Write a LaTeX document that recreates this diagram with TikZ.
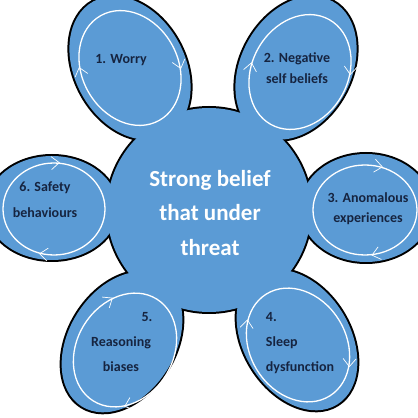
\documentclass[tikz,border=0pt]{standalone}
\usepackage{fontspec}
\setmainfont{Carlito}
\usetikzlibrary{arrows.meta,decorations.markings}
\definecolor{petal}{RGB}{91,155,213}
\definecolor{ink}{RGB}{22,36,64}
\tikzset{
  outline/.style={draw=black,line width=4pt},
  body/.style={fill=petal},
  ring/.style 2 args={draw=white,line width=1.3pt,postaction={decorate},
    decoration={markings,
      mark=at position #1 with {\arrow{<}},
      mark=at position #2 with {\arrow{<}}}},
  ptext/.style={text=ink,font=\fontsize{14}{21}\selectfont\bfseries,inner sep=0pt},
  ctext/.style={text=white,font=\fontsize{23}{34.5}\selectfont\bfseries,align=center,inner sep=0pt},
}
\begin{document}
\begin{tikzpicture}[x=1pt,y=1pt,>={Straight Barb[length=8pt,width=13pt,line width=0.7pt]}]
\useasboundingbox (0,0) rectangle (418,418);
\begin{scope}
\clip (0,0) rectangle (418,418);
% outline of the union
\path[outline] (209,208) circle [radius=102];
\path[outline] (130,350) ellipse [x radius=76, y radius=55, rotate=119];
\path[outline] (296,350) ellipse [x radius=76, y radius=55, rotate=61];
\path[outline] (366,210) ellipse [x radius=66, y radius=54];
\path[outline] (297,78) ellipse [x radius=76, y radius=53, rotate=-58];
\path[outline] (122,76) ellipse [x radius=76, y radius=53, rotate=238];
\path[outline] (52,210) ellipse [x radius=66, y radius=52];
% fill of the union
\path[body] (209,208) circle [radius=102];
\path[body] (130,350) ellipse [x radius=76, y radius=55, rotate=119];
\path[body] (296,350) ellipse [x radius=76, y radius=55, rotate=61];
\path[body] (366,210) ellipse [x radius=66, y radius=54];
\path[body] (297,78) ellipse [x radius=76, y radius=53, rotate=-58];
\path[body] (122,76) ellipse [x radius=76, y radius=53, rotate=238];
\path[body] (52,210) ellipse [x radius=66, y radius=52];
% white circular arrows
\path[ring={0.2}{0.7}] (130,350) ellipse [x radius=60, y radius=48, rotate=119];
\path[ring={0.32}{0.84}] (300,346) ellipse [x radius=60, y radius=48, rotate=61];
\path[ring={0.22}{0.8}] (365,208) ellipse [x radius=52, y radius=45];
\path[ring={0.13}{0.62}] (298,73) ellipse [x radius=60, y radius=48, rotate=-58];
\path[ring={0.12}{0.66}] (125,68) ellipse [x radius=60, y radius=48, rotate=238];
\path[ring={0.26}{0.73}] (54,209) ellipse [x radius=51, y radius=46];
\end{scope}
% texts
\node[ctext] (core) at (210,205) {Strong belief\\that under\\threat};
\node[ptext] (t1) at (121,358) {1. Worry};
\node[ptext,align=center] (t2) at (297,350) {2. Negative\\self beliefs};
\node[ptext,align=center] (t3) at (368,209) {3. Anomalous\\[-1pt]experiences};
\node[ptext,align=left] (t4) at (300,75) {4.\\[4pt]Sleep\\[4pt]dysfunction};
\node[ptext,align=center] (t5) at (121,76) {\hspace*{52pt}5.\\[4pt]Reasoning\\[4pt]biases};
\node[ptext,align=center] (t6) at (45,218) {6. Safety\\[5pt]behaviours};
\end{tikzpicture}
\end{document}
